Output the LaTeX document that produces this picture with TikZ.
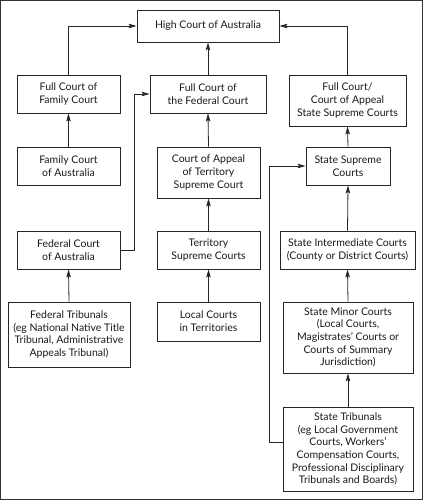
\documentclass[tikz,border=0pt]{standalone}
\usepackage{fontspec}
\setmainfont{Lato}
\usetikzlibrary{arrows.meta}
\begin{document}
\begin{tikzpicture}[x=1pt,y=-1pt,
  court/.style={draw=black!85,line width=0.8pt,align=center,inner sep=1pt,
    font=\fontsize{10.5}{12.7}\selectfont,text=black!90},
  arr/.style={draw=black!85,line width=0.8pt,-{Stealth[length=8pt,width=4.5pt,inset=1.5pt]}}]
\useasboundingbox (0,0) rectangle (423,500);
\draw[black!80,line width=1.4pt] (0.7,0.7) rectangle (422.3,499.3);
\node[court,minimum width=142pt,minimum height=32pt] (high) at (208,26) {High Court of Australia};
\node[court,minimum width=103pt,minimum height=38pt] (ffam) at (68.5,94) {Full Court of\\Family Court};
\node[court,minimum width=116pt,minimum height=38pt] (ffed) at (208,94) {Full Court of\\the Federal Court};
\node[court,minimum width=117pt,minimum height=51pt] (fstate) at (347.5,100.5) {Full Court/\\Court of Appeal\\State Supreme Courts};
\node[court,minimum width=103pt,minimum height=38pt] (fam) at (68.5,166) {Family Court\\of Australia};
\node[court,minimum width=103pt,minimum height=51pt] (cat) at (208.5,172.5) {Court of Appeal\\of Territory\\Supreme Court};
\node[court,minimum width=84pt,minimum height=38pt] (ssup) at (348,166) {State Supreme\\Courts};
\node[court,minimum width=103pt,minimum height=38pt] (fca) at (68.5,250) {Federal Court\\of Australia};
\node[court,minimum width=103pt,minimum height=38pt] (tsc) at (208.5,250) {Territory\\Supreme Courts};
\node[court,minimum width=135pt,minimum height=38pt] (sic) at (347.5,250) {State Intermediate Courts\\(County or District Courts)};
\node[court,minimum width=122pt,minimum height=65pt] (ftrib) at (69,334.5) {Federal Tribunals\\(eg National Native Title\\Tribunal, Administrative\\Appeals Tribunal)};
\node[court,minimum width=103pt,minimum height=39pt] (lct) at (208.5,321.5) {Local Courts\\in Territories};
\node[court,minimum width=130pt,minimum height=71pt] (smc) at (348,337.5) {State Minor Courts\\(Local Courts,\\Magistrates' Courts or\\Courts of Summary\\Jurisdiction)};
\node[court,minimum width=130pt,minimum height=84pt] (strib) at (348,449) {State Tribunals\\(eg Local Government\\Courts, Workers'\\Compensation Courts,\\Professional Disciplinary\\Tribunals and Boards)};
\draw[arr] (ffam.north) |- (high.west);
\draw[arr] (fstate.north) |- (high.east);
\draw[arr] (ffed.north) -- (high.south);
\draw[arr] (fam.north) -- (ffam.south);
\draw[arr] (fca.east) -- ++(14,0) |- (ffed.west);
\draw[arr] (cat.north) -- (ffed.south);
\draw[arr] (tsc.north) -- (cat.south);
\draw[arr] (lct.north) -- (tsc.south);
\draw[arr] (ftrib.north) -- (fca.south);
\draw[arr] (ssup.north) -- (fstate.south);
\draw[arr] (sic.north) -- (ssup.south);
\draw[arr] (smc.north) -- (sic.south);
\draw[arr] (strib.north) -- (smc.south);
\draw[arr] ([yshift=7pt]strib.west) -- ++(-13,0) |- (ssup.west);
\end{tikzpicture}
\end{document}
